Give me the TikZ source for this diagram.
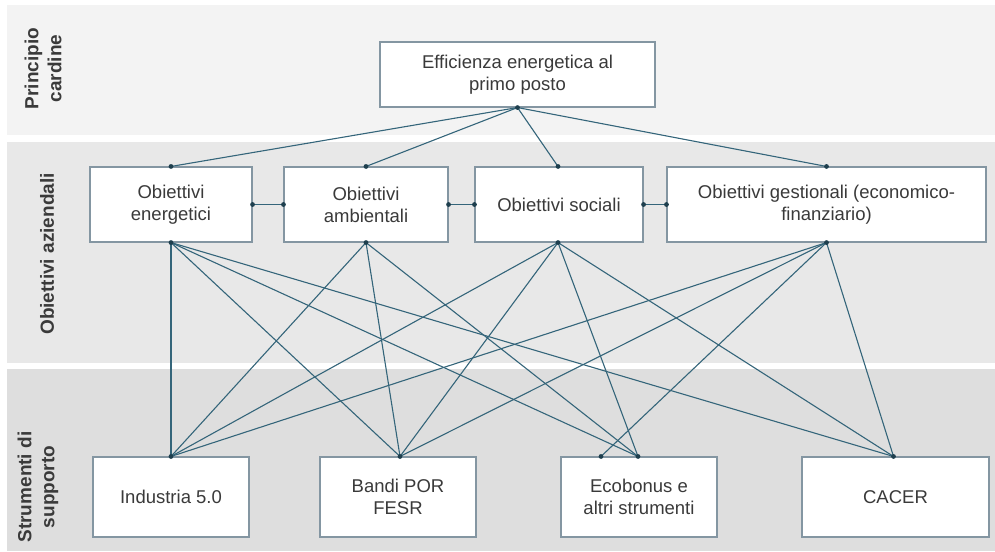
\documentclass[tikz,border=0pt]{standalone}
\usepackage{fontspec}
\setmainfont{Liberation Sans}
\usetikzlibrary{positioning}
\definecolor{bandA}{HTML}{F3F3F3}
\definecolor{bandB}{HTML}{E8E8E8}
\definecolor{bandC}{HTML}{DEDEDE}
\definecolor{linecol}{HTML}{34657A}
\definecolor{dotcol}{HTML}{1E3F4E}
\definecolor{boxline}{HTML}{8496A2}
\definecolor{txtcol}{HTML}{3A3A3A}
\tikzset{
  box/.style={draw=boxline, line width=1.1pt, fill=white, align=center, inner sep=2pt,
    text=txtcol, font=\fontsize{18.5}{22}\selectfont},
  conn/.style={draw=linecol, line width=1.1pt},
  side/.style={rotate=90, align=center, text=txtcol, font=\bfseries\fontsize{19}{23}\selectfont},
}
\begin{document}
\begin{tikzpicture}[x=1pt,y=-1pt]
\useasboundingbox (0,0) rectangle (995,551);
\fill[white] (0,0) rectangle (995,551);
% bands
\fill[bandA] (7,5) rectangle (995,135);
\fill[bandB] (7,142) rectangle (995,363);
\fill[bandC] (7,369) rectangle (995,551);
% side labels
\node[side] (l1) at (43,68.5) {Principio\\cardine};
\node[side] (l2) at (47,254) {Obiettivi aziendali};
\node[side] (l3) at (38,487) {Strumenti di\\supporto};
% top box
\node[box, minimum width=275pt, minimum height=65pt] (top) at (517.5,74.5) {Efficienza energetica al\\primo posto};
% middle boxes
\node[box, minimum width=162pt, minimum height=75pt] (ene) at (171,204.5) {Obiettivi\\energetici};
\node[box, minimum width=164pt, minimum height=75pt] (amb) at (366,204.5) {Obiettivi\\ambientali};
\node[box, minimum width=168pt, minimum height=75pt] (soc) at (559,204.5) {Obiettivi sociali};
\node[box, minimum width=319pt, minimum height=75pt] (ges) at (826.5,204.5) {Obiettivi gestionali (economico-\\finanziario)};
% bottom boxes
\node[box, minimum width=156pt, minimum height=80pt] (ind) at (171,497) {Industria 5.0};
\node[box, minimum width=156pt, minimum height=80pt] (ban) at (398,497) {Bandi POR\\FESR};
\node[box, minimum width=156pt, minimum height=80pt] (eco) at (639,497) {Ecobonus e\\altri strumenti};
\node[box, minimum width=187pt, minimum height=80pt] (cac) at (895.5,497) {CACER};
% anchor points
\coordinate (topS) at (top.south);
\coordinate (eneN) at (ene.north);
\coordinate (ambN) at (amb.north);
\coordinate (socN) at ([xshift=-1pt]soc.north);
\coordinate (gesN) at (ges.north);
\coordinate (eneS) at (ene.south);
\coordinate (ambS) at (amb.south);
\coordinate (socS) at ([xshift=-1pt]soc.south);
\coordinate (gesS) at (ges.south);
\coordinate (indN) at (ind.north);
\coordinate (banN) at ([xshift=2pt]ban.north);
\coordinate (ecoN) at ([xshift=-1pt]eco.north);
\coordinate (ecoN2) at ([xshift=-38pt]eco.north);
\coordinate (cacN) at ([xshift=-2pt]cac.north);
\coordinate (eneE) at (ene.east);
\coordinate (ambW) at (amb.west);
\coordinate (ambE) at (amb.east);
\coordinate (socW) at (soc.west);
\coordinate (socE) at (soc.east);
\coordinate (gesW) at (ges.west);
% top connectors
\foreach \t in {eneN,ambN,socN,gesN} \draw[conn] (topS) -- (\t);
% horizontal connectors
\draw[conn] (eneE) -- (ambW);
\draw[conn] (ambE) -- (socW);
\draw[conn] (socE) -- (gesW);
% middle to bottom
\foreach \t in {indN,banN,ecoN,cacN} \draw[conn] (eneS) -- (\t);
\foreach \t in {indN,banN,ecoN} \draw[conn] (ambS) -- (\t);
\foreach \t in {indN,banN,ecoN,cacN} \draw[conn] (socS) -- (\t);
\foreach \t in {indN,banN,ecoN2,cacN} \draw[conn] (gesS) -- (\t);
% dots
\foreach \p in {topS,eneN,ambN,socN,gesN,eneS,ambS,socS,gesS,indN,banN,ecoN,ecoN2,cacN,eneE,ambW,ambE,socW,socE,gesW}
  \fill[dotcol] (\p) circle (2.4pt);
\end{tikzpicture}
\end{document}
